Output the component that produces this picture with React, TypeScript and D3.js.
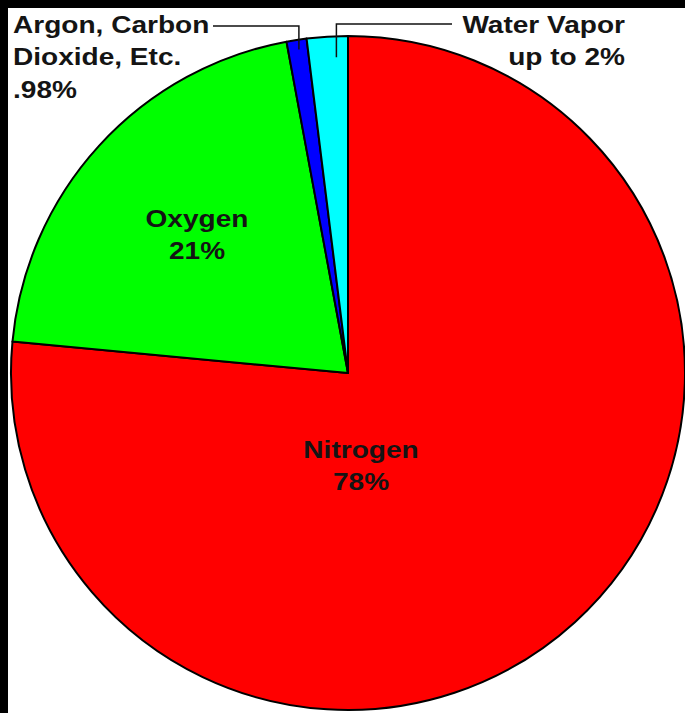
import React from "react";
import * as d3 from "d3";

const categories = ["Nitrogen", "Oxygen", "Argon, Carbon Dioxide, Etc.", "Water Vapor"];
const values = [78, 21, 0.98, 2];
const colors = ["#ff0000", "#00ff00", "#0000ff", "#00ffff"];
const labelLines = [
  ["Nitrogen", "78%"],
  ["Oxygen", "21%"],
  ["Argon, Carbon", "Dioxide, Etc.", ".98%"],
  ["Water Vapor", "up to 2%"],
];

// layout (annotation placement)
const W = 685;
const H = 713;
const CX = 348;
const CY = 373;
const R = 337;
const FONT = 23;
const SX = 1.22;
const LINE = 32.5;
const labelPos = [
  { x: 361, y: 458, anchor: "middle" },
  { x: 197, y: 227, anchor: "middle" },
  { x: 13, y: 33, anchor: "start" },
  { x: 625, y: 33, anchor: "end" },
];

export default function App() {
  const pie = d3
    .pie<number>()
    .sort(null)
    .value((d) => d)
    .startAngle(0)
    .endAngle(2 * Math.PI);
  const arcs = pie(values);
  const arc = d3.arc<d3.PieArcDatum<number>>().innerRadius(0).outerRadius(R);

  // leader lines: from label to slice near outer edge
  const argon = arcs[2];
  const water = arcs[3];
  const ptAt = (a: number, rr: number) => [CX + Math.sin(a) * rr, CY - Math.cos(a) * rr];
  const argonA = argon.startAngle + (argon.endAngle - argon.startAngle) * 0.62;
  const waterA = water.startAngle + (water.endAngle - water.startAngle) * 0.72;
  const [axp, ayp] = ptAt(argonA, R);
  const [wxp, wyp] = ptAt(waterA, R);
  const argonPath = `M213,26H${axp.toFixed(1)}V${(ayp + 10).toFixed(1)}`;
  const waterPath = `M452,24H${wxp.toFixed(1)}V${(wyp + 21).toFixed(1)}`;

  return (
    <svg
      width={W}
      height={H}
      style={{ position: "absolute", left: 0, top: 0, display: "block" }}
    >
      <rect x={0} y={0} width={W} height={H} fill="#000" />
      <rect x={8} y={8} width={W - 8} height={H - 8} fill="#fff" />
      <g transform={`translate(${CX},${CY})`}>
        {arcs.map((a, i) => (
          <path
            key={categories[i]}
            d={arc(a) || ""}
            fill={colors[i]}
            stroke="#000"
            strokeWidth={2}
            strokeLinejoin="round"
          />
        ))}
      </g>
      <path d={argonPath} fill="none" stroke="#111" strokeWidth={1.5} />
      <path d={waterPath} fill="none" stroke="#111" strokeWidth={1.5} />
      {labelLines.map((lines, i) => (
        <g
          key={categories[i]}
          transform={`translate(${labelPos[i].x},${labelPos[i].y}) scale(${SX},1)`}
        >
          {lines.map((t, j) => (
            <text
              key={j}
              x={0}
              y={j * LINE}
              textAnchor={labelPos[i].anchor as any}
              fontFamily="'Liberation Sans', Arial, sans-serif"
              fontWeight="bold"
              fontSize={FONT}
              fill="#141414"
            >
              {t}
            </text>
          ))}
        </g>
      ))}
    </svg>
  );
}
